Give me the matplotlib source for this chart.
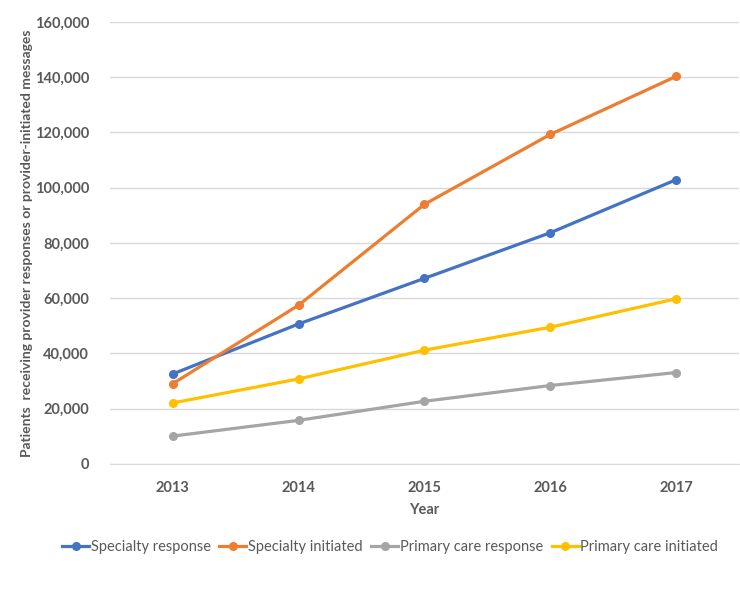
import matplotlib.pyplot as plt
from matplotlib.ticker import FuncFormatter

plt.rcParams['font.family'] = ['Lato', 'DejaVu Sans']

years = ['2013', '2014', '2015', '2016', '2017']
specialty_response = [32600, 50700, 67200, 83700, 102900]
specialty_initiated = [29100, 57500, 94000, 119300, 140300]
primary_response = [10100, 15800, 22700, 28400, 33100]
primary_initiated = [22100, 30800, 41200, 49500, 59800]

series = [
    ('Specialty response', specialty_response, '#4472C4'),
    ('Specialty initiated', specialty_initiated, '#ED7D31'),
    ('Primary care response', primary_response, '#A5A5A5'),
    ('Primary care initiated', primary_initiated, '#FFC000'),
]

txt = '#595959'
fig = plt.figure(figsize=(7.4, 5.99), dpi=100)
ax = fig.add_axes([0.1486, 0.2254, 0.85, 0.7379])

x = range(len(years))
for name, vals, col in series:
    ax.plot(x, vals, color=col, lw=2.3, marker='o', ms=5.5, label=name)

ax.set_xlim(-0.5, 4.5)
ax.set_ylim(0, 160000)
ax.set_yticks(range(0, 160001, 20000))
ax.yaxis.set_major_formatter(FuncFormatter(lambda v, p: f'{int(v):,}'))
ax.set_xticks(list(x))
ax.set_xticklabels(years)
ax.grid(axis='y', color='#D9D9D9', lw=1)
ax.set_axisbelow(True)
for s in ['top', 'right', 'left']:
    ax.spines[s].set_visible(False)
ax.spines['bottom'].set_color('#D9D9D9')
ax.tick_params(length=0, colors=txt, labelsize=10.5, pad=12)
for lab in ax.get_xticklabels() + ax.get_yticklabels():
    lab.set_fontweight('bold')
ax.tick_params(axis='y', pad=15)

ax.set_xlabel('Year', fontsize=10.5, fontweight='bold', color=txt, labelpad=6)
ax.set_ylabel('Patients  receiving provider responses or provider-initiated messages',
              fontsize=10, fontweight='bold', color=txt, labelpad=1)

fig.legend(loc='center', bbox_to_anchor=(0.527, 0.087), ncol=4, frameon=False,
           fontsize=10.5, labelcolor=txt, handlelength=1.85, handletextpad=0.1,
           columnspacing=0.6)

fig.savefig('out.png', dpi=100)
